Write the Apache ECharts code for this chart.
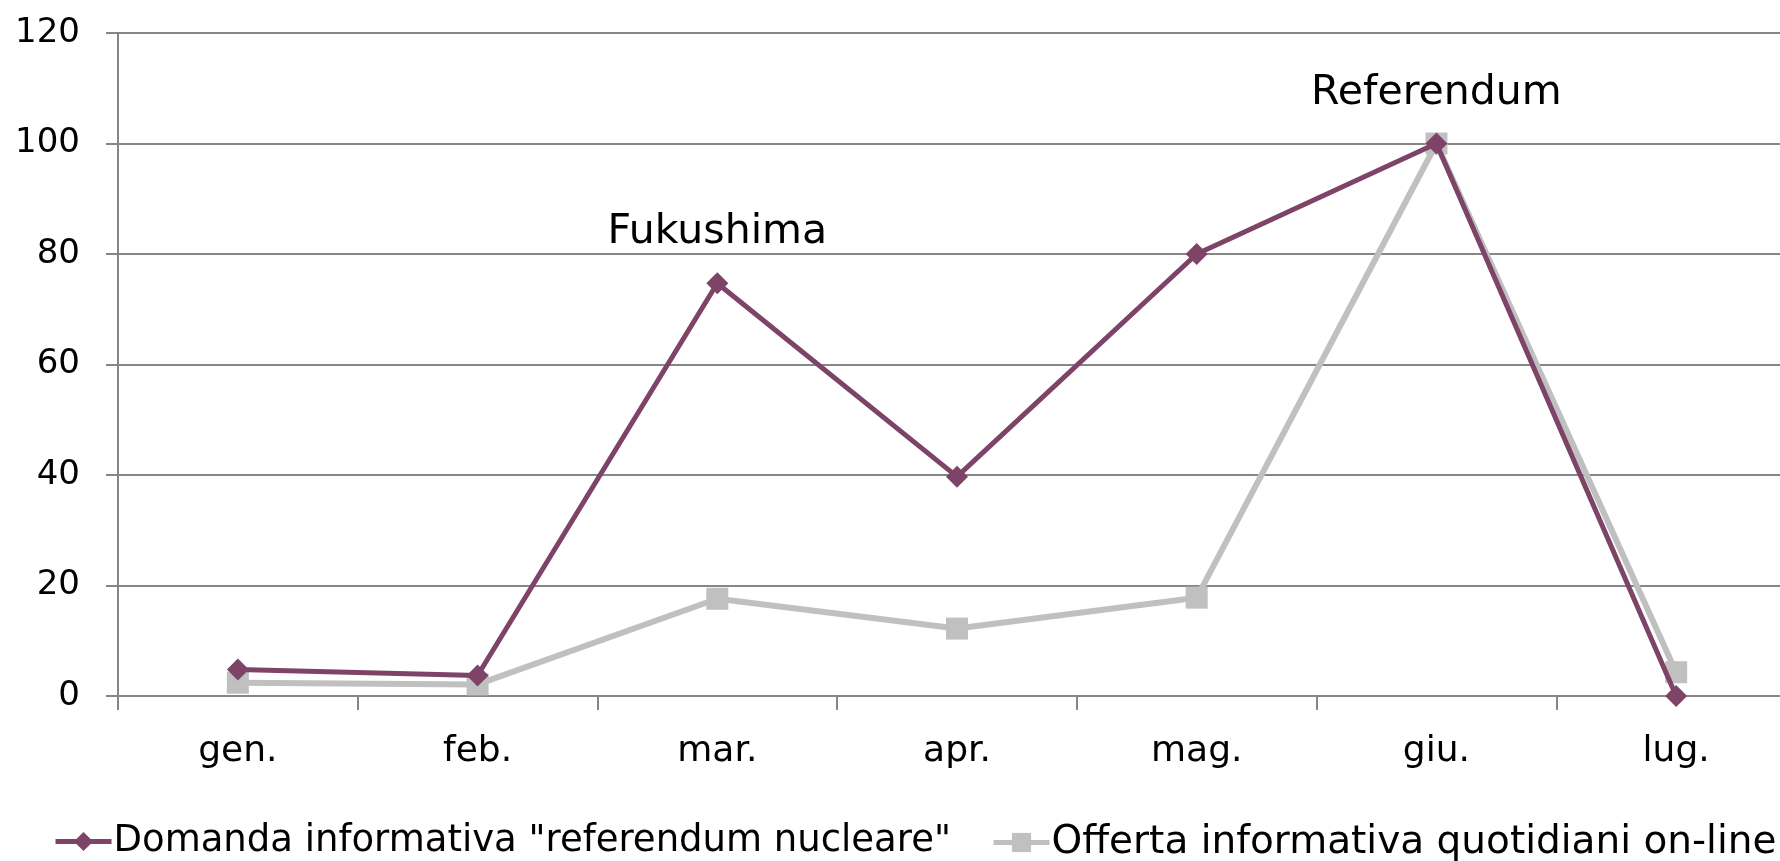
<!DOCTYPE html>
<html>
<head>
<meta charset="utf-8">
<script src="https://cdn.jsdelivr.net/npm/echarts@6/dist/echarts.min.js"></script>
<style>
html, body { margin: 0; padding: 0; background: #fff; }
#chart { width: 1780px; height: 861px; }
</style>
</head>
<body>
<div id="chart"></div>
<script>
// mesi e valori
var mesi = ['gen.', 'feb.', 'mar.', 'apr.', 'mag.', 'giu.', 'lug.'];
var domanda = [4.8, 3.7, 74.7, 39.7, 80, 100, 0];
var offerta = [2.4, 2.1, 17.6, 12.2, 17.8, 100, 4.3];
var eventi = ['', '', 'Fukushima', '', '', 'Referendum', ''];

var nomeDomanda = 'Domanda informativa "referendum nucleare"';
var nomeOfferta = 'Offerta informativa quotidiani on-line';

var font = 'DejaVu Sans';
var grigio = '#868686';

var myChart = echarts.init(document.getElementById('chart'));

// i punti con un evento hanno un'etichetta sopra
var datiDomanda = [];
for (var i = 0; i < domanda.length; i++) {
	if (eventi[i]) {
		datiDomanda.push({
			value: domanda[i],
			label: { show: true, formatter: eventi[i] }
		});
	} else {
		datiDomanda.push(domanda[i]);
	}
}

function legenda(left, nome, size) {
	return {
		left: left, top: 823, padding: 0,
		itemWidth: 56, itemHeight: 24, itemGap: 0,
		lineStyle: { width: 5 },
		textStyle: { fontFamily: font, fontSize: size, color: '#000', padding: [0, 0, 0, -3] },
		data: [nome]
	};
}

var option = {
	animation: false,
	textStyle: { fontFamily: font },
	// l'ultima categoria esce un po' dal bordo destro
	grid: { left: 118, top: 33, width: 1678, height: 663, outerBoundsMode: 'none' },
	legend: [
		legenda(53, nomeDomanda, 37),
		legenda(991, nomeOfferta, 39)
	],
	xAxis: {
		type: 'category',
		data: mesi,
		boundaryGap: true,
		axisLine: { lineStyle: { color: grigio, width: 2 } },
		axisTick: { show: true, length: 14, lineStyle: { color: grigio, width: 2 } },
		axisLabel: { margin: 38, fontFamily: font, fontSize: 36, color: '#000' }
	},
	yAxis: {
		type: 'value',
		min: 0, max: 120, interval: 20,
		axisLine: { show: true, lineStyle: { color: grigio, width: 2 } },
		axisTick: { show: true, length: 12, lineStyle: { color: grigio, width: 2 } },
		axisLabel: { margin: 38, fontFamily: font, fontSize: 34, color: '#000' },
		splitLine: { lineStyle: { color: grigio, width: 2 } }
	},
	series: [
		{
			name: nomeOfferta,
			type: 'line',
			data: offerta,
			symbol: 'rect',
			symbolSize: 22,
			itemStyle: { color: '#C0C0C0' },
			lineStyle: { color: '#C0C0C0', width: 6 },
			z: 2
		},
		{
			name: nomeDomanda,
			type: 'line',
			data: datiDomanda,
			symbol: 'diamond',
			symbolSize: 22,
			itemStyle: { color: '#7E4468' },
			lineStyle: { color: '#7E4468', width: 5 },
			label: {
				show: false,
				position: 'top',
				distance: 19,
				fontFamily: font,
				fontSize: 41,
				color: '#000'
			},
			z: 3
		}
	]
};

myChart.setOption(option);
</script>
</body>
</html>
